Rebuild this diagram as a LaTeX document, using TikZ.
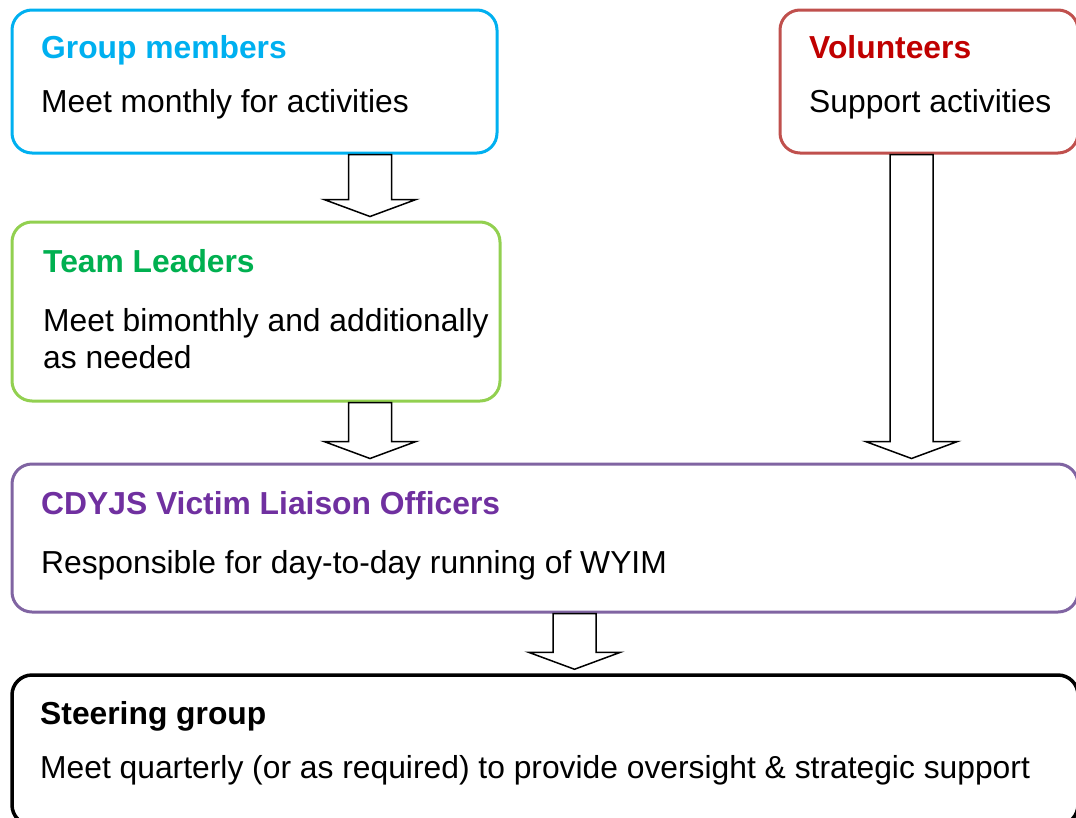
\documentclass[tikz,border=0pt]{standalone}
\usepackage{fontspec}
\setmainfont{Liberation Sans}
\usetikzlibrary{calc}

\definecolor{gmblue}{HTML}{00B0F0}
\definecolor{tlgreen}{HTML}{92D050}
\definecolor{tltext}{HTML}{00B050}
\definecolor{vlopurple}{HTML}{8064A2}
\definecolor{vlotext}{HTML}{7030A0}
\definecolor{volred}{HTML}{C0504D}
\definecolor{voltext}{HTML}{C00000}

\tikzset{
  box/.style={draw, rectangle, rounded corners=20pt, line width=3pt,
    fill=white, inner sep=0pt},
  title/.style={anchor=base west, inner sep=0pt, font=\fontsize{31.8}{37}\selectfont\bfseries},
  body/.style={anchor=base west, inner sep=0pt, align=left,
    font=\fontsize{31.8}{37}\selectfont},
  blockarrow/.style={draw=black, fill=white, line width=1.5pt, line join=miter},
}

% hollow block arrow: centre x, upper node, lower node
\newcommand\blockarrow[3]{%
  \path (#1,0) coordinate (ba-c);
  \draw[blockarrow] let \p1=(ba-c |- #2.south), \p2=(ba-c |- #3.north) in
    (\x1-21.5pt,\y1) -- (\x1-21.5pt,\y2+21pt) -- (\x1-46pt,\y2+21pt) --
    (\x1,\y2+4pt) -- (\x1+46pt,\y2+21pt) -- (\x1+21.5pt,\y2+21pt) --
    (\x1+21.5pt,\y1) -- cycle;
}

\begin{document}
\begin{tikzpicture}[x=1pt, y=-1pt]
  \useasboundingbox (0,0) rectangle (1076,817);
  \clip (0,0) rectangle (1076,817);

  % boxes
  \node[box, draw=gmblue, minimum width=485pt, minimum height=143pt] (gm) at (254.5,81.5) {};
  \node[box, draw=volred, minimum width=298pt, minimum height=143pt] (vol) at (929,81.5) {};
  \node[box, draw=tlgreen, minimum width=488pt, minimum height=179pt] (tl) at (256,311.5) {};
  \node[box, draw=vlopurple, minimum width=1066pt, minimum height=148pt] (vlo) at (545,538) {};
  \node[box, draw=black, line width=3.5pt, minimum width=1066pt, minimum height=150pt] (sg) at (545,750) {};

  % texts (multi-line bodies are placed by the baseline of their last line)
  \node[title, text=gmblue] (gmt) at (41,58) {Group members};
  \node[body] (gmb) at (41,112) {Meet monthly for activities};

  \node[title, text=voltext] (volt) at (809,58) {Volunteers};
  \node[body] (volb) at (809,112) {Support activities};

  \node[title, text=tltext] (tlt) at (43,272) {Team Leaders};
  \node[body] (tlb) at (43,368) {Meet bimonthly and additionally\\as needed};

  \node[title, text=vlotext] (vlot) at (41,514) {CDYJS Victim Liaison Officers};
  \node[body] (vlob) at (41,573) {Responsible for day-to-day running of WYIM};

  \node[title, text=black] (sgt) at (40,724) {Steering group};
  \node[body] (sgb) at (40,778) {Meet quarterly (or as required) to provide oversight \& strategic support};

  % connectors
  \blockarrow{370}{gm}{tl}
  \blockarrow{370}{tl}{vlo}
  \blockarrow{911.5}{vol}{vlo}
  \blockarrow{574.5}{vlo}{sg}
\end{tikzpicture}
\end{document}
